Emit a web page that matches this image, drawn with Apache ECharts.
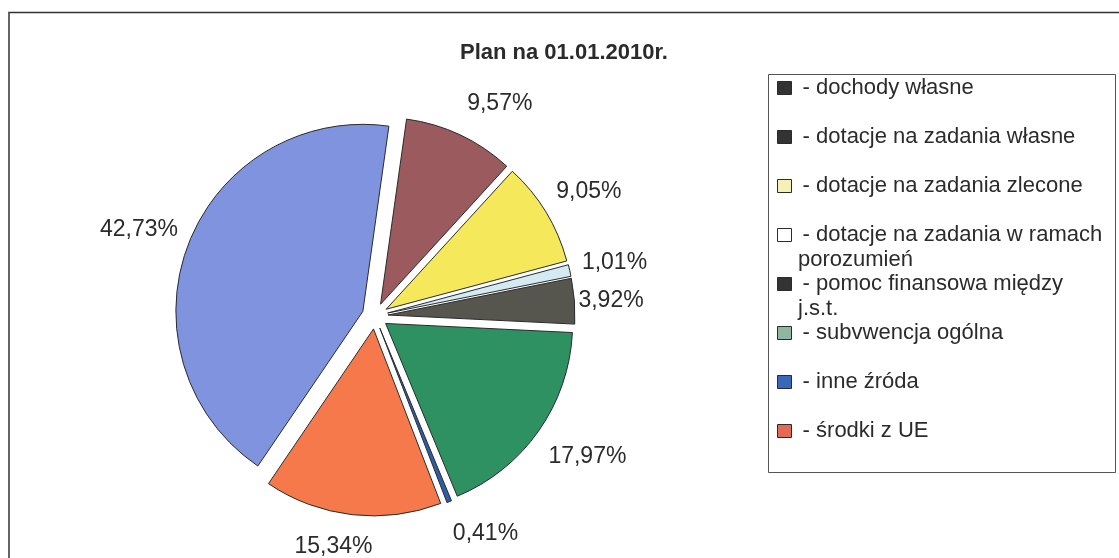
<!DOCTYPE html>
<html>
<head>
<meta charset="utf-8">
<script src="https://cdn.jsdelivr.net/npm/echarts@6/dist/echarts.min.js"></script>
<style>
  html, body { margin: 0; padding: 0; background: #ffffff; }
  #chart { width: 1119px; height: 558px; }
</style>
</head>
<body>
<div id="chart"></div>
<script>
// ---- data ----
const titleText = 'Plan na 01.01.2010r.';
const legendLines = [
  ['dochody własne'],
  ['dotacje na zadania własne'],
  ['dotacje na zadania zlecone'],
  ['dotacje na zadania w ramach', 'porozumień'],
  ['pomoc finansowa między', 'j.s.t.'],
  ['subvwencja ogólna'],
  ['inne źróda'],
  ['środki z UE']
];
const categories = legendLines.map(l => l.join(' '));
const values = [42.73, 9.57, 9.05, 1.01, 3.92, 17.97, 0.41, 15.34];

// ---- styles ----
const sliceColors = ['#7f93de', '#9b5a5e', '#f5e85a', '#d3eaf2', '#56564f', '#2e9161', '#2c5ea8', '#f6794c'];
const legendIconColors = ['#333333', '#333333', '#f4f1b8', '#ffffff', '#333333', '#8fb5a5', '#3a68b8', '#e36b55'];
const labelLen = [39, 35, 39, 33, 4, 45, 34, 32];
const labelShift = [-26, -8, -23, -20, 0, -27, -9, -24];
const labelPadTop = [0, 0, 0, 0, 32, 0, 0, 0];

const FONT = '"Liberation Sans", Arial, sans-serif';
const TEXT = '#2b2b2b';
const PIE_CENTER = [375, 316];
const PIE_R = 187;
const firstAngle = 82; // boundary between first and second slice
const startAngle = firstAngle + values[0] * 3.6;

const LEG_TOP = 77, LEG_GAP = 27, LEG_ITEM_H = 22, LEG_LEFT = 777;

const chart = echarts.init(document.getElementById('chart'), null, { renderer: 'canvas' });

const data = categories.map((name, i) => ({
  name: name,
  value: values[i],
  selected: true,
  itemStyle: { color: sliceColors[i] },
  label: { distanceToLabelLine: labelShift[i], padding: [labelPadTop[i], 0, 0, 0] },
  labelLine: { length: labelLen[i], length2: 0 }
}));

const contGraphics = [];
legendLines.forEach((lines, i) => {
  for (let k = 1; k < lines.length; k++) {
    contGraphics.push({
      type: 'text',
      x: 798,
      y: LEG_TOP + i * (LEG_ITEM_H + LEG_GAP) + LEG_ITEM_H / 2 + 25 * k,
      style: { text: lines[k], font: '22px ' + FONT, fill: TEXT, verticalAlign: 'middle', align: 'left' },
      silent: true
    });
  }
});

chart.setOption({
  animation: false,
  backgroundColor: '#ffffff',
  title: {
    text: titleText,
    left: 460,
    top: 42,
    padding: 0,
    textStyle: { fontFamily: FONT, fontSize: 22, fontWeight: 'bold', color: TEXT }
  },
  legend: {
    orient: 'vertical',
    left: LEG_LEFT,
    top: LEG_TOP,
    padding: 0,
    itemGap: LEG_GAP,
    itemWidth: 14,
    itemHeight: 13,
    icon: 'rect',
    selectedMode: false,
    formatter: name => ' - ' + legendLines[categories.indexOf(name)][0],
    textStyle: { fontFamily: FONT, fontSize: 22, color: TEXT },
    data: categories.map((name, i) => ({
      name: name,
      itemStyle: { color: legendIconColors[i], borderColor: '#2b2b2b', borderWidth: 1 }
    }))
  },
  graphic: [
    {
      type: 'polyline',
      shape: { points: [[9, 558], [9, 12.5], [1119, 12.5]] },
      style: { stroke: '#333333', lineWidth: 1.5, fill: null },
      silent: true
    },
    {
      type: 'rect',
      shape: { x: 768.5, y: 74.5, width: 347, height: 398 },
      style: { stroke: '#555555', lineWidth: 1, fill: null },
      silent: true
    }
  ].concat(contGraphics),
  series: [{
    type: 'pie',
    center: PIE_CENTER,
    radius: PIE_R,
    startAngle: startAngle,
    clockwise: true,
    selectedMode: 'multiple',
    selectedOffset: 13,
    avoidLabelOverlap: false,
    emphasis: { disabled: true },
    itemStyle: { borderColor: '#2b2b2b', borderWidth: 1 },
    label: {
      show: true,
      position: 'outside',
      fontFamily: FONT,
      fontSize: 23,
      color: TEXT,
      formatter: p => p.value.toFixed(2).replace('.', ',') + '%'
    },
    labelLine: { show: false },
    data: data
  }]
});
</script>
</body>
</html>
